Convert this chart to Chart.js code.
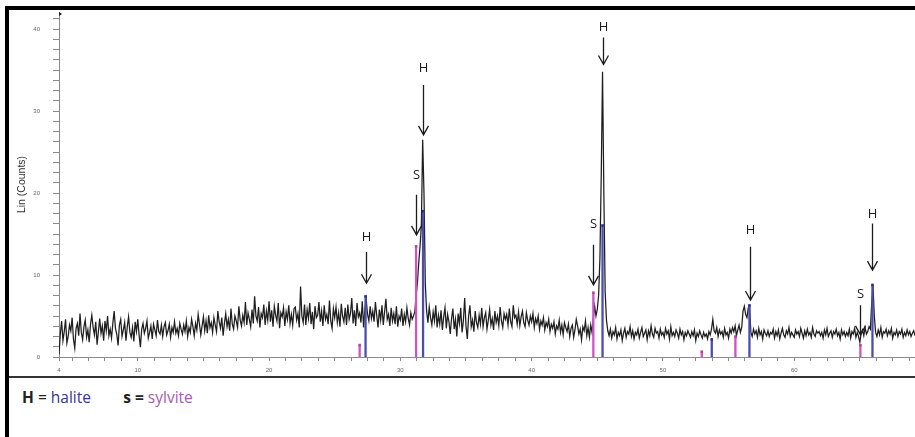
<!DOCTYPE html>
<html>
<head>
<meta charset="utf-8">
<script src="https://cdn.jsdelivr.net/npm/chart.js@4.4.0/dist/chart.umd.min.js"></script>
<style>
  html, body { margin: 0; padding: 0; background: #fff; }
  body { width: 915px; height: 437px; position: relative; overflow: hidden; font-family: 'Open Sans', 'Liberation Sans', sans-serif; }
  #frame { position: absolute; left: 5px; top: 6px; width: 906px; height: 431px; border-left: 4px solid #000; border-top: 4px solid #000; }
  #plot { position: absolute; left: 10px; top: 10px; width: 905px; height: 365px; }
  #sep { position: absolute; left: 9px; top: 376px; width: 906px; height: 2px; background: #333; }
  #legend { position: absolute; left: 22px; top: 386px; font-size: 15.5px; color: #222; white-space: pre; }
  #legend .h { color: #36368c; }
  #legend .s { color: #a65ca8; }
</style>
</head>
<body>
<div id="frame"></div>
<div id="plot"><canvas id="xrd"></canvas></div>
<div id="sep"></div>
<div id="legend"><b>H</b> = <span class="h">halite</span>        <b>s =</b> <span class="s">sylvite</span></div>

<script>
// scan sampled every 0.1 deg 2-theta starting at 4.0 (one row = 2 deg)
const scanStart = 4.0;
const scanStep = 0.1;
const counts = [
  0.3, 2.8, 4.4, 2.0, 3.1, 4.6, 1.7, 2.5, 3.9, 3.2, 4.8, 2.2, 1.1, 3.5, 4.1, 2.6, 5.3, 3.0, 2.1, 3.7, // 4
  4.5, 2.4, 3.3, 1.8, 4.0, 5.1, 3.6, 2.7, 4.3, 1.5, 3.1, 4.7, 2.9, 3.8, 2.0, 4.4, 3.2, 5.0, 2.6, 3.4, // 6
  2.3, 4.1, 5.6, 3.5, 2.8, 1.4, 3.9, 4.6, 2.5, 3.3, 4.2, 2.0, 3.7, 4.9, 3.0, 2.4, 3.6, 1.9, 4.3, 3.1, // 8
  4.6, 2.7, 1.2, 3.4, 4.1, 2.9, 3.5, 4.4, 2.3, 3.0, 3.8, 2.2, 4.0, 3.3, 2.6, 4.5, 3.1, 2.8, 3.9, 2.5, // 10
  3.7, 4.2, 2.7, 3.2, 4.0, 2.4, 3.6, 3.0, 4.3, 2.9, 3.5, 2.6, 4.1, 3.4, 2.8, 3.9, 3.1, 4.4, 2.5, 3.6, // 12
  3.0, 4.6, 3.7, 2.6, 4.1, 3.3, 5.2, 4.0, 2.7, 3.8, 4.9, 3.2, 4.4, 2.9, 5.1, 3.6, 4.2, 3.0, 4.8, 3.9, // 14
  3.1, 5.6, 4.3, 3.5, 4.8, 2.6, 4.1, 5.3, 3.7, 4.6, 3.2, 5.9, 4.0, 3.4, 5.0, 4.4, 3.6, 6.2, 4.5, 3.8, // 16
  5.1, 4.2, 6.7, 3.9, 5.4, 4.6, 3.7, 5.8, 4.1, 7.4, 5.0, 4.4, 6.1, 3.6, 5.3, 4.8, 6.4, 3.9, 5.6, 4.5, // 18
  6.8, 4.3, 5.7, 3.7, 6.2, 5.1, 4.4, 6.6, 3.5, 5.4, 4.9, 6.0, 3.8, 5.5, 4.6, 6.3, 4.1, 5.2, 3.9, 5.9, // 20
  6.1, 4.5, 5.3, 3.6, 8.6, 5.0, 4.2, 6.4, 3.9, 5.8, 4.7, 6.6, 4.0, 5.5, 3.4, 6.2, 4.8, 5.1, 6.7, 4.3, // 22
  5.6, 3.8, 6.3, 4.6, 5.2, 4.0, 6.9, 4.4, 3.5, 5.9, 4.8, 6.1, 4.2, 5.4, 3.7, 6.5, 5.0, 4.3, 6.0, 3.9, // 24
  6.4, 4.6, 5.3, 7.2, 4.1, 5.7, 3.8, 6.6, 4.9, 5.4, 4.2, 6.8, 3.6, 5.9, 7.0, 5.2, 4.4, 6.2, 4.7, 5.6, // 26
  4.3, 6.7, 5.1, 3.6, 5.8, 4.5, 6.3, 3.9, 5.5, 7.1, 4.6, 5.2, 3.8, 6.0, 4.4, 5.3, 4.0, 6.2, 3.7, 5.0, // 28
  4.5, 5.9, 3.8, 5.2, 4.3, 6.0, 4.7, 3.9, 5.4, 4.6, 5.0, 5.5, 7.5, 9.0, 11.5, 13.5, 16.0, 26.5, 20.0, 9.0, // 30
  5.6, 4.2, 6.1, 4.8, 3.9, 5.5, 4.4, 6.3, 3.6, 5.1, 4.0, 5.7, 3.3, 4.9, 6.0, 3.5, 5.2, 4.3, 2.8, 4.7, // 32
  5.9, 3.4, 4.6, 2.5, 5.3, 4.1, 6.0, 3.0, 4.4, 7.2, 3.8, 2.2, 5.0, 6.3, 3.7, 4.5, 3.1, 5.6, 4.2, 3.6, // 34
  5.1, 4.0, 6.0, 3.7, 4.8, 5.4, 3.4, 4.5, 5.8, 3.9, 4.7, 3.3, 5.6, 4.2, 5.0, 3.8, 6.1, 4.4, 3.6, 5.3, // 36
  4.6, 5.2, 3.9, 5.9, 4.3, 3.7, 6.3, 4.8, 5.1, 4.0, 5.5, 3.8, 4.9, 5.6, 4.2, 3.7, 5.4, 4.5, 3.9, 5.0, // 38
  4.3, 5.3, 3.6, 4.7, 4.1, 5.0, 3.4, 4.4, 3.9, 4.8, 3.3, 4.2, 3.7, 4.6, 3.1, 4.0, 3.5, 4.3, 2.8, 3.8, // 40
  3.4, 4.5, 3.0, 3.9, 2.7, 4.2, 3.6, 3.1, 4.0, 2.5, 3.5, 3.9, 2.4, 3.3, 4.6, 3.8, 2.8, 3.4, 2.1, 3.7, // 42
  3.2, 4.4, 2.6, 3.6, 2.4, 3.9, 3.0, 4.8, 6.2, 5.0, 5.8, 7.5, 12.0, 22.0, 34.8, 20.0, 8.0, 4.5, 3.2, 2.6, // 44
  3.4, 2.3, 3.1, 2.7, 3.6, 2.2, 3.0, 2.6, 3.3, 2.0, 2.9, 3.5, 2.4, 3.1, 2.8, 3.7, 2.5, 3.2, 2.2, 3.0, // 46
  2.7, 3.4, 2.3, 3.0, 3.6, 2.5, 2.9, 3.3, 2.1, 3.2, 2.6, 3.8, 2.8, 2.4, 3.5, 2.9, 3.1, 2.3, 3.4, 2.7, // 48
  3.0, 2.4, 3.5, 2.8, 3.2, 2.2, 3.7, 2.6, 3.0, 2.5, 3.3, 2.9, 2.3, 3.4, 2.7, 3.1, 2.1, 3.0, 2.6, 3.2, // 50
  2.8, 2.4, 3.1, 2.6, 3.3, 2.0, 2.9, 2.5, 3.2, 2.7, 2.3, 3.0, 2.5, 2.8, 2.2, 3.1, 2.7, 3.4, 4.6, 3.2, // 52
  2.9, 3.6, 2.5, 3.3, 2.8, 3.1, 2.4, 3.5, 2.7, 3.0, 2.3, 3.4, 2.9, 3.6, 3.1, 3.8, 2.6, 3.3, 3.9, 3.0, // 54
  3.6, 5.6, 6.2, 5.2, 4.8, 6.0, 6.1, 3.0, 2.5, 3.4, 2.8, 3.2, 2.4, 3.5, 2.7, 3.1, 2.2, 3.3, 2.9, 2.6, // 56
  3.2, 2.5, 3.0, 2.8, 3.4, 2.3, 3.1, 2.6, 3.3, 2.2, 2.9, 3.5, 2.7, 2.4, 3.2, 2.8, 3.6, 2.5, 3.0, 2.7, // 58
  2.4, 3.3, 2.8, 3.1, 2.5, 3.5, 2.9, 2.3, 3.2, 2.6, 3.4, 2.7, 3.0, 2.4, 3.6, 2.8, 2.5, 3.2, 2.9, 3.1, // 60
  2.6, 3.0, 2.3, 3.3, 2.7, 3.5, 2.5, 2.9, 3.2, 2.4, 3.1, 2.8, 3.4, 2.6, 3.0, 2.2, 3.3, 2.7, 3.1, 2.5, // 62
  3.0, 2.6, 3.4, 2.3, 3.1, 2.8, 3.5, 2.4, 3.0, 2.5, 1.8, 2.9, 3.3, 2.6, 3.6, 2.8, 3.1, 3.7, 3.4, 6.5, // 64
  8.8, 5.0, 3.0, 2.5, 3.3, 2.7, 3.6, 2.4, 3.1, 2.9, 3.4, 2.6, 3.2, 2.8, 3.5, 2.3, 3.0, 2.7, 3.3, 2.5, // 66
  3.1, 2.8, 3.4, 2.4, 3.0, 2.6, 3.3, 2.7, 3.1, 2.5, 2.9, 3.2, 2.6                                     // 68
];

// reference sticks
const haliteX = [27.35, 31.73, 45.4, 53.72, 56.59, 65.96];
const haliteY = [7.4, 17.8, 16.05, 2.15, 6.3, 8.8];
const sylviteX = [26.9, 31.2, 44.7, 52.96, 55.52, 65.04];
const sylviteY = [1.46, 13.5, 7.85, 0.65, 2.5, 1.45];

// peak arrows (2-theta, label height, arrow top, arrow tip)
const arrowLabels = ['H', 'S', 'H', 'S', 'H', 'H', 'S', 'H'];
const arrowX     = [27.35, 31.2, 31.75, 44.7, 45.4, 56.6, 65.0, 65.95];
const arrowTextY = [14.6, 22.2, 35.2, 16.2, 40.2, 15.5, 7.6, 17.4];
const arrowTop   = [12.8, 19.8, 33.2, 13.7, 39.0, 13.45, 6.3, 16.3];
const arrowTip   = [9.0, 14.9, 27.1, 8.8, 35.7, 6.95, 2.7, 10.6];

const xTickLabels = [4, 10, 20, 30, 40, 50, 60];
const yTickLabels = [0, 10, 20, 30, 40];
const minorStep = 1.25;

const xMin = 4, xMax = 69.2, yMin = 0, yMax = 42.1;

function buildScan() {
  return counts.map((c, i) => ({ x: +(scanStart + i * scanStep).toFixed(1), y: c }));
}

function buildSticks(xs, ys) {
  const pts = [];
  xs.forEach((x, i) => {
    pts.push({ x: x, y: 0 }, { x: x, y: ys[i] }, { x: x, y: null });
  });
  return pts;
}

function tickList(min, max, labelled) {
  const vals = labelled.slice();
  for (let v = minorStep; v <= max; v += minorStep) {
    if (v > min && !labelled.includes(v)) vals.push(v);
  }
  return vals.sort((a, b) => a - b).map(v => ({ value: v }));
}

const peakArrows = {
  id: 'peakArrows',
  afterDatasetsDraw(chart) {
    const { ctx, chartArea, scales: { x, y } } = chart;
    ctx.save();
    ctx.strokeStyle = '#1b1b1b';
    ctx.fillStyle = '#1b1b1b';
    ctx.lineWidth = 1.3;
    ctx.font = '13px "Open Sans", "Liberation Sans", sans-serif';
    ctx.textAlign = 'center';
    ctx.textBaseline = 'middle';
    arrowLabels.forEach((lab, i) => {
      const px = Math.round(x.getPixelForValue(arrowX[i])) + 0.5;
      const top = y.getPixelForValue(arrowTop[i]);
      const tip = y.getPixelForValue(arrowTip[i]);
      ctx.fillText(lab, px, y.getPixelForValue(arrowTextY[i]));
      ctx.beginPath();
      ctx.moveTo(px, top);
      ctx.lineTo(px, tip);
      ctx.moveTo(px - 5, tip - 9);
      ctx.lineTo(px, tip);
      ctx.lineTo(px + 5, tip - 9);
      ctx.stroke();
    });
    // little marker at the top of the y axis
    ctx.beginPath();
    ctx.moveTo(chartArea.left, chartArea.top);
    ctx.lineTo(chartArea.left + 3, chartArea.top + 2);
    ctx.lineTo(chartArea.left, chartArea.top + 4);
    ctx.fill();
    ctx.restore();
  }
};

const stickStyle = {
  showLine: true,
  spanGaps: false,
  borderWidth: 2.3,
  pointStyle: 'rect',
  pointRadius: ctx => (ctx.raw && ctx.raw.y > 0 ? 1.8 : 0),
  pointBorderWidth: 0
};

const chart = new Chart(document.getElementById('xrd'), {
  type: 'line',
  data: {
    datasets: [
      Object.assign({
        label: 'sylvite',
        data: buildSticks(sylviteX, sylviteY),
        borderColor: '#cc55c4',
        backgroundColor: '#b8409f',
        order: 1
      }, stickStyle),
      Object.assign({
        label: 'halite',
        data: buildSticks(haliteX, haliteY),
        borderColor: '#4d4db0',
        backgroundColor: '#2e2e80',
        order: 0
      }, stickStyle),
      {
        label: 'scan',
        data: buildScan(),
        borderColor: '#1e1e1e',
        borderWidth: 1.25,
        pointRadius: 0,
        tension: 0,
        order: 2
      }
    ]
  },
  options: {
    responsive: true,
    maintainAspectRatio: false,
    animation: false,
    layout: { padding: { top: 2, right: 0, bottom: 0, left: 0 } },
    plugins: { legend: { display: false }, tooltip: { enabled: false } },
    scales: {
      x: {
        type: 'linear',
        min: xMin,
        max: xMax,
        afterBuildTicks: axis => { axis.ticks = tickList(xMin, xMax, xTickLabels); },
        afterFit: s => { s.height = 18; s.paddingLeft = 0; s.paddingRight = 0; },
        grid: { drawOnChartArea: false, drawTicks: true, tickLength: 4, color: '#8a8a8a' },
        border: { color: '#8a8a8a' },
        ticks: {
          autoSkip: false,
          maxRotation: 0,
          padding: 6,
          color: '#666',
          font: { size: 6, family: 'Liberation Sans' },
          callback: v => (xTickLabels.includes(v) ? String(v) : '')
        }
      },
      y: {
        min: yMin,
        max: yMax,
        afterBuildTicks: axis => { axis.ticks = tickList(yMin, yMax, yTickLabels); },
        afterFit: s => { s.width = 49; s.paddingTop = 0; s.paddingBottom = 0; },
        grid: { drawOnChartArea: false, drawTicks: true, tickLength: 6, color: '#8a8a8a' },
        border: { color: '#8a8a8a' },
        title: {
          display: true,
          text: 'Lin (Counts)',
          color: '#333',
          font: { size: 10.5, family: 'Liberation Sans' },
          padding: { top: 6, bottom: 0 }
        },
        ticks: {
          autoSkip: false,
          padding: 13,
          color: '#666',
          font: { size: 6, family: 'Liberation Sans' },
          callback: v => (yTickLabels.includes(v) ? String(v) : '')
        }
      }
    }
  },
  plugins: [peakArrows]
});
</script>
</body>
</html>
